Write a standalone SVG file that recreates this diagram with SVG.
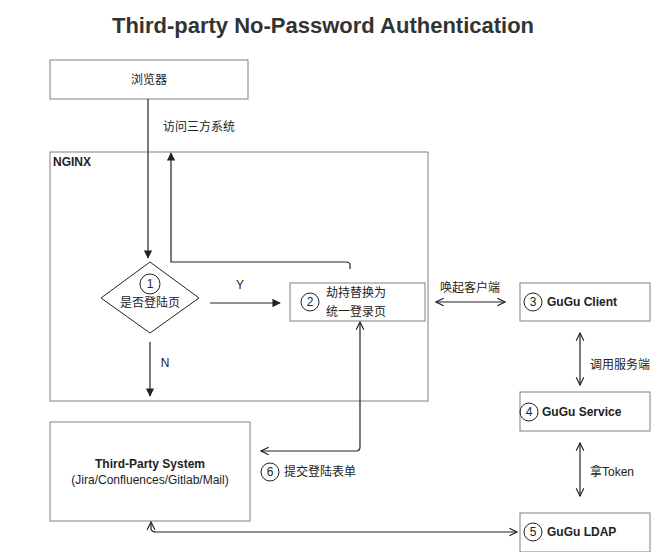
<svg xmlns="http://www.w3.org/2000/svg" width="656" height="552" viewBox="0 0 656 552">
<style>
.box{fill:#fff;stroke:#808080;stroke-width:1}
.ln{fill:none;stroke:#222;stroke-width:1.2}
.t{font-family:"Liberation Sans","Noto Sans CJK SC",sans-serif;font-size:12px;fill:#222}
.b{font-weight:bold}
.c{fill:none;stroke:#222;stroke-width:1}
</style>
<defs>
<marker id="f" viewBox="0 0 10 10" refX="9" refY="5" markerWidth="7" markerHeight="7" orient="auto-start-reverse"><path d="M0,0L10,5L0,10z" fill="#222"/></marker>
<marker id="o" viewBox="0 0 10 10" refX="9" refY="5" markerWidth="8" markerHeight="8" orient="auto-start-reverse"><path d="M1,1L9,5L1,9" fill="none" stroke="#222" stroke-width="1.2"/></marker>
</defs>
<rect width="656" height="552" fill="#fff"/>
<text x="323" y="33" text-anchor="middle" style="font-family:'Liberation Sans',sans-serif;font-size:22px;font-weight:bold;fill:#333">Third-party No-Password Authentication</text>

<g id="nginx"><rect class="box" x="50" y="152" width="378" height="249"/><text class="t b" x="53" y="166">NGINX</text></g>
<g id="browser"><rect class="box" x="50" y="60" width="198" height="39"/><text class="t" x="149" y="84" text-anchor="middle">浏览器</text></g>
<g id="decision"><path class="box" d="M150,262L199,298L150,333L101,298Z" style="stroke:#222"/><circle class="c" cx="150" cy="284" r="10"/><text class="t" x="150" y="288" text-anchor="middle">1</text><text class="t" x="150" y="307" text-anchor="middle">是否登陆页</text></g>
<g id="hijack"><rect class="box" x="290" y="283" width="135" height="38"/><circle class="c" cx="310" cy="302" r="9"/><text class="t" x="310" y="306" text-anchor="middle">2</text><text class="t" x="326" y="297">劫持替换为</text><text class="t" x="326" y="316">统一登录页</text></g>
<g id="client"><rect class="box" x="520" y="283" width="130" height="38"/><circle class="c" cx="533" cy="302" r="9"/><text class="t" x="533" y="306" text-anchor="middle">3</text><text class="t b" x="547" y="306">GuGu Client</text></g>
<g id="service"><rect class="box" x="520" y="392" width="130" height="39"/><circle class="c" cx="529" cy="412" r="9"/><text class="t" x="529" y="416" text-anchor="middle">4</text><text class="t b" x="542" y="416">GuGu Service</text></g>
<g id="ldap"><rect class="box" x="520" y="513" width="130" height="39"/><circle class="c" cx="533" cy="532" r="9"/><text class="t" x="533" y="536" text-anchor="middle">5</text><text class="t b" x="547" y="536">GuGu LDAP</text></g>
<g id="third"><rect class="box" x="50" y="422" width="200" height="99"/><text class="t b" x="150" y="468" text-anchor="middle">Third-Party System</text><text class="t" x="150" y="484" text-anchor="middle">(Jira/Confluences/Gitlab/Mail)</text></g>

<g id="connectors">
<path class="ln" d="M148,99V258" marker-end="url(#f)"/>
<text class="t" x="163" y="131">访问三方系统</text>
<path class="ln" d="M350,269V265Q350,262 346,262H171V153" marker-end="url(#f)"/>
<path class="ln" d="M210,303H280" marker-end="url(#f)"/>
<text class="t" x="240" y="289" text-anchor="middle">Y</text>
<path class="ln" d="M150,342V396" marker-end="url(#f)"/>
<text class="t" x="165" y="367" text-anchor="middle">N</text>
<path class="ln" d="M360,322V447Q360,451 356,451H261" marker-start="url(#o)" marker-end="url(#o)"/>
<circle class="c" cx="270" cy="472" r="9"/><text class="t" x="270" y="476" text-anchor="middle">6</text>
<text class="t" x="284" y="476">提交登陆表单</text>
<path class="ln" d="M436,302H505" marker-start="url(#o)" marker-end="url(#o)"/>
<text class="t" x="440" y="292">唤起客户端</text>
<path class="ln" d="M580,333V385" marker-start="url(#o)" marker-end="url(#o)"/>
<text class="t" x="590" y="369">调用服务端</text>
<path class="ln" d="M580,443V496" marker-start="url(#o)" marker-end="url(#o)"/>
<text class="t" x="590" y="476">拿Token</text>
<path class="ln" d="M517,532H156Q152,532 151,529V522" marker-start="url(#o)" marker-end="url(#o)"/>
</g>
</svg>
